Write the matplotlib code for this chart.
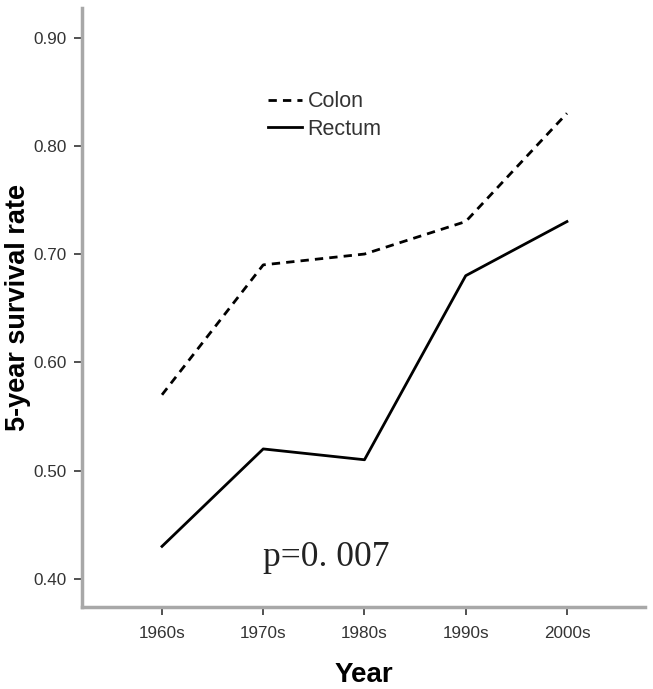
import matplotlib
matplotlib.use('Agg')
import matplotlib.pyplot as plt
from matplotlib.lines import Line2D

# 结肠癌/直肠癌 5年生存率
decades = ['1960s', '1970s', '1980s', '1990s', '2000s']
colon = [0.57, 0.69, 0.70, 0.73, 0.83]
rectum = [0.43, 0.52, 0.51, 0.68, 0.73]
yticks = [0.40, 0.50, 0.60, 0.70, 0.80, 0.90]

plt.rcParams['font.family'] = ['Liberation Sans', 'DejaVu Sans']

fig = plt.figure(figsize=(6.53, 6.89), dpi=100)
ax = fig.add_axes([0.1256, 0.119, 0.862, 0.869])

x = range(len(decades))
ax.plot(x, colon, color='black', lw=2, linestyle=(0, (3, 2.2)))
ax.plot(x, rectum, color='black', lw=2)

ax.set_xlim(-0.79, 4.77)
ax.set_ylim(0.374, 0.927)
ax.set_xticks(list(x))
ax.set_xticklabels(decades)
ax.set_yticks(yticks)
ax.set_yticklabels(['%.2f' % v for v in yticks])
ax.tick_params(axis='both', labelsize=12.3, colors='#333333', length=6, width=1.2,
               direction='out', pad=5)
ax.tick_params(axis='x', pad=8)

for s in ['top', 'right']:
    ax.spines[s].set_visible(False)
for s in ['left', 'bottom']:
    ax.spines[s].set_color('#a8a8a8')
    ax.spines[s].set_linewidth(2.5)

ax.set_ylabel('5-year survival rate', fontsize=19.5, fontweight='bold', labelpad=2)
ax.set_xlabel('Year', fontsize=20, fontweight='bold', labelpad=15)

handles = [Line2D([], [], color='black', lw=2, linestyle=(0, (3, 2.2))),
           Line2D([], [], color='black', lw=2)]
ax.legend(handles, ['Colon', 'Rectum'], loc='upper left', bbox_to_anchor=(0.33, 0.861),
          frameon=False, fontsize=15.5, handlelength=1.6, handletextpad=0.25,
          labelspacing=0.3, borderpad=0, borderaxespad=0, labelcolor='#333333')

ax.text(1.0, 0.42, 'p=0. 007', fontsize=25.5, family=['Liberation Serif', 'DejaVu Serif'],
        va='center', ha='left', color='#222222')

fig.savefig('out.png', dpi=100)
